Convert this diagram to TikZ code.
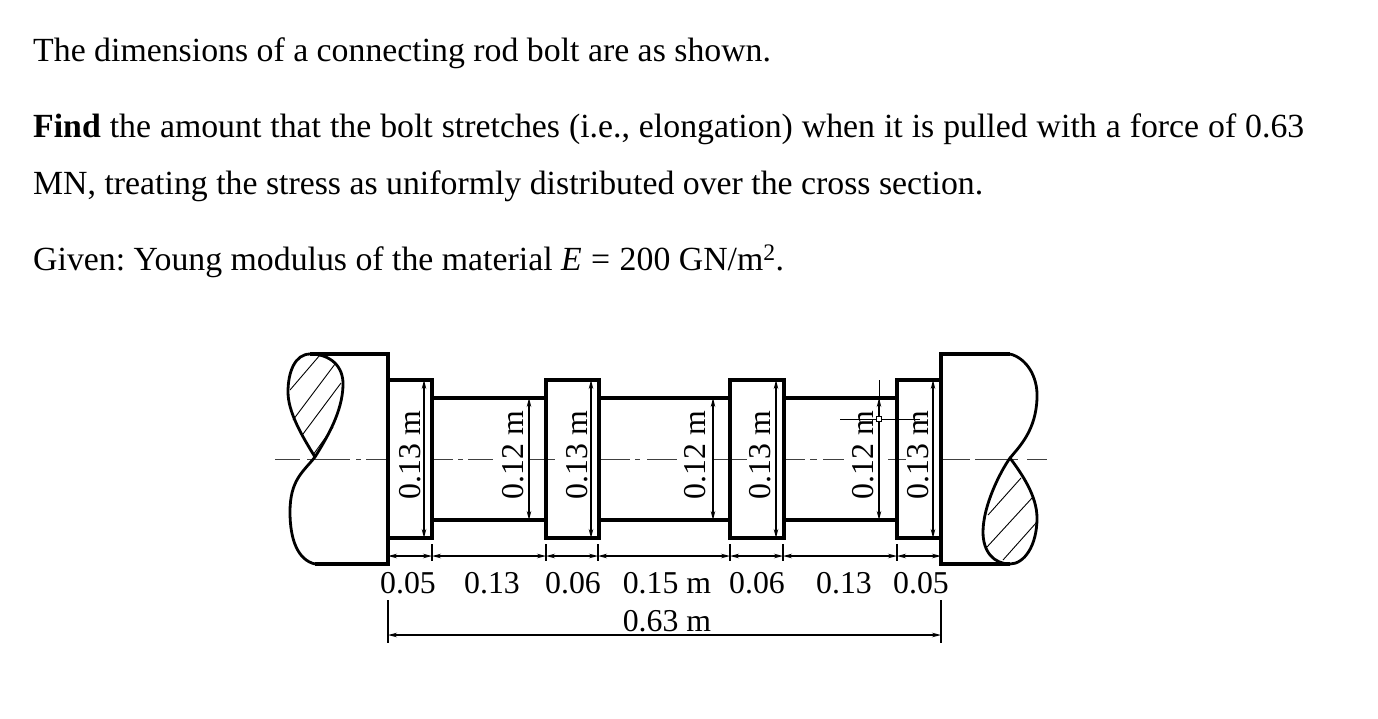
\documentclass[tikz,border=0pt]{standalone}
\usepackage{fontspec}
\setmainfont{Liberation Serif}
\usetikzlibrary{arrows.meta}
\frenchspacing
\tikzset{
  para/.style={anchor=base west,inner sep=0pt,font=\fontsize{33.8}{38}\selectfont},
  dimtext/.style={inner sep=0pt,font=\fontsize{31.8}{36}\selectfont},
  sidetext/.style={dimtext,rotate=90},
  body/.style={line width=3.6pt,line join=miter},
  edge line/.style={line width=2.8pt,line join=round},
  thin line/.style={line width=1.1pt},
  center line/.style={line width=1pt,black!75},
  dimline/.style={thin line,{Stealth[length=9pt,width=4.5pt]}-{Stealth[length=9pt,width=4.5pt]}},
  hatch/.style={line width=0.9pt}
}
\begin{document}
\begin{tikzpicture}[x=1pt,y=-1pt]
  \useasboundingbox (0,0) rectangle (1378,718);
  % statement
  \node[para] (line1) at (33,61) {The dimensions of a connecting rod bolt are as shown.};
  \node[para] (line2) at (33,137) {\spaceskip=8.95pt \textbf{Find} the amount that the bolt stretches (i.e., elongation) when it is pulled with a force of 0.63};
  \node[para] (line3) at (33,194) {MN, treating the stress as uniformly distributed over the cross section.};
  \node[para] (line4) at (33,270) {Given: Young modulus of the material \textit{E}\hspace{1pt} = \hspace{1pt}200 GN/m\textsuperscript{2}.};
  % center line
  \foreach \xa/\xb in {275/300, 307/350, 356/361, 366/388, 433/453, 458/463, 468/493, 529/555, 600/630, 635/640, 647/677,
      713/747, 783/805, 810/817, 823/844, 888/906, 943/970, 975/1018, 1027/1047}{
    \draw[center line] (\xa,459) -- (\xb,459);
  }
  % bolt outline
  \draw[body] (310,354) -- (388,354) -- (388,380) -- (432,380) -- (432,398) -- (546,398) -- (546,380) -- (599,380)
    -- (599,398) -- (730,398) -- (730,380) -- (784,380) -- (784,398) -- (897,398) -- (897,380) -- (941,380)
    -- (941,354) -- (1010,354);
  \draw[body] (315,564) -- (388,564) -- (388,538) -- (432,538) -- (432,520) -- (546,520) -- (546,538) -- (599,538)
    -- (599,520) -- (730,520) -- (730,538) -- (784,538) -- (784,520) -- (897,520) -- (897,538) -- (941,538)
    -- (941,564) -- (1010,564);
  \draw[body] (388,380) -- (388,538) (941,380) -- (941,538);
  \draw[body] (546,380) -- (546,538) (599,380) -- (599,538) (730,380) -- (730,538) (784,380) -- (784,538)
    (432,380) -- (432,538) (897,380) -- (897,538);
  % broken ends
  \draw[edge line] (310,354) .. controls (330,354) and (344,366) .. (343,386)
    .. controls (342,412) and (328,436) .. (315,457);
  \draw[edge line] (310,354) .. controls (295,354) and (288,372) .. (288,392)
    .. controls (288,412) and (302,436) .. (315,457)
    .. controls (303,472) and (290,480) .. (290,512) .. controls (290,540) and (298,560) .. (315,564);
  \draw[edge line] (1010,354) .. controls (1026,358) and (1038,376) .. (1037,398)
    .. controls (1036,430) and (1020,446) .. (1010,458)
    .. controls (1022,474) and (1037,496) .. (1037,518) .. controls (1037,546) and (1024,564) .. (1010,564)
    .. controls (994,564) and (983,552) .. (983,532) .. controls (983,506) and (1000,472) .. (1010,458);
  % hatching
  \draw[hatch] (290,390) -- (320,355);
  \draw[hatch] (293,420) -- (335,364);
  \draw[hatch] (303,434) -- (341,383);
  \draw[hatch] (313,455) -- (333,427);
  \draw[hatch] (988,515) -- (1021,478);
  \draw[hatch] (987,547) -- (1032,498);
  \draw[hatch] (1003,560) -- (1036,523);
  % height dimensions
  \foreach \tx/\ax/\ya/\yb/\val in {410/424/380/538/0.13, 513/529/398/520/0.12, 577/591/380/538/0.13,
      695/713/398/520/0.12, 760/776/380/538/0.13, 863/879/398/520/0.12, 918/933/380/538/0.13}{
    \node[sidetext] at (\tx,455) {\val\ m};
    \draw[dimline] (\ax,\ya) -- (\ax,\yb);
  }
  % length dimensions
  \foreach \xa/\xb in {388/432, 432/546, 546/598, 598/730, 730/783, 783/897, 897/941}{
    \draw[dimline] (\xa,556) -- (\xb,556);
  }
  \foreach \xa in {432,546,598,730,783,897}{
    \draw[thin line] (\xa,544) -- (\xa,561);
  }
  \foreach \tx/\val in {408/0.05, 492/0.13, 573/0.06, 667/0.15 m, 757/0.06, 844/0.13, 921/0.05}{
    \node[dimtext] at (\tx,583) {\val};
  }
  \node[dimtext] (total) at (667,621) {0.63 m};
  \coordinate (totalL) at (388,635);
  \coordinate (totalR) at (941,635);
  \draw[dimline] (totalL) -- (totalR);
  \draw[thin line] (388,600) -- (388,643);
  \draw[thin line] (941,600) -- (941,643);
  % selection handle left on the figure
  \node[draw,line width=0.7pt,fill=white,minimum size=5pt,inner sep=0pt] (handle) at (879,419) {};
  \draw[line width=0.7pt] (879,380) -- (handle);
  \draw[line width=0.7pt] (840,419) -- (handle) -- (920,419);
\end{tikzpicture}
\end{document}
